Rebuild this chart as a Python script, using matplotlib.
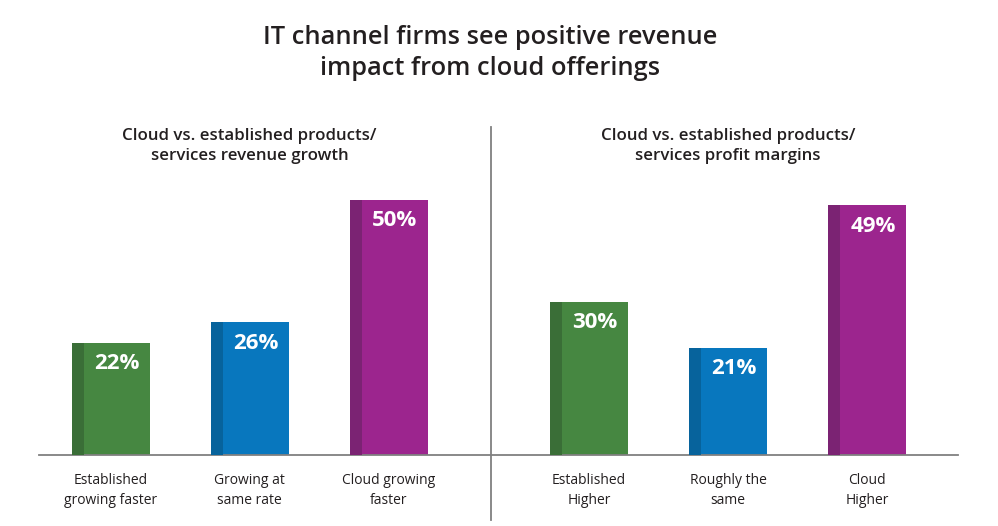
import matplotlib.pyplot as plt
from matplotlib.lines import Line2D
from matplotlib.transforms import blended_transform_factory

plt.rcParams['font.family'] = ['Open Sans', 'DejaVu Sans']

title = "IT channel firms see positive revenue\nimpact from cloud offerings"

growth_title = "Cloud vs. established products/\nservices revenue growth"
growth_labels = ["Established\ngrowing faster", "Growing at\nsame rate", "Cloud growing\nfaster"]
growth_values = [22, 26, 50]

margin_title = "Cloud vs. established products/\nservices profit margins"
margin_labels = ["Established\nHigher", "Roughly the\nsame", "Cloud\nHigher"]
margin_values = [30, 21, 49]

colors = ["#468741", "#0877be", "#9c258e"]
dark_colors = ["#3a6e37", "#07639c", "#7b2373"]
text_color = "#231f20"

W, H = 998, 526
fig = plt.figure(figsize=(W / 100, H / 100), dpi=100)

px_per_unit = 139.0
bar_w = 78 / px_per_unit
strip_w = 12 / px_per_unit
y_top = 52
base_px = 455
ax_h = y_top * 5.1


def make_panel(left_px, right_px, first_center_px, labels, values, sub):
    ax = fig.add_axes([left_px / W, (H - base_px) / H,
                       (right_px - left_px) / W, ax_h / H])
    x = list(range(len(values)))
    ax.bar(x, values, width=bar_w, color=colors, zorder=2)
    ax.bar([i - bar_w / 2 for i in x], values, width=strip_w, align='edge',
           color=dark_colors, zorder=3)
    for i, v in enumerate(values):
        ax.annotate(f"{v}%", (i + strip_w / 2, v), xytext=(0, -21),
                    textcoords='offset pixels', ha='center', va='center',
                    color='white', fontsize=16, fontweight='bold', zorder=4)
    ax.set_xlim((left_px - first_center_px) / px_per_unit,
                (right_px - first_center_px) / px_per_unit)
    ax.set_ylim(0, y_top)
    ax.set_xticks(x)
    ax.set_xticklabels(labels, fontsize=10, color=text_color, linespacing=1.45)
    ax.tick_params(axis='x', length=0, pad=13)
    ax.set_yticks([])
    for s in ['top', 'left', 'right']:
        ax.spines[s].set_visible(False)
    ax.spines['bottom'].set_color('#808080')
    ax.spines['bottom'].set_linewidth(1.3)
    trans = blended_transform_factory(ax.transData, fig.transFigure)
    ax.text(1, 1 - 146 / H, sub, transform=trans, ha='center', va='center',
            fontsize=12.2, fontweight='semibold', color=text_color,
            linespacing=1.35)
    return ax


make_panel(39, 490, 110.5, growth_labels, growth_values, growth_title)
make_panel(491, 958, 589, margin_labels, margin_values, margin_title)

fig.add_artist(Line2D([491 / W, 491 / W], [1 - 127 / H, 1 - 520 / H],
                      color='#808080', linewidth=1.3))

fig.text(490 / W, 1 - 53 / H, title, ha='center', va='center', fontsize=18.3,
         fontweight='semibold', color=text_color, linespacing=1.3)

fig.savefig("out.png", dpi=100)
